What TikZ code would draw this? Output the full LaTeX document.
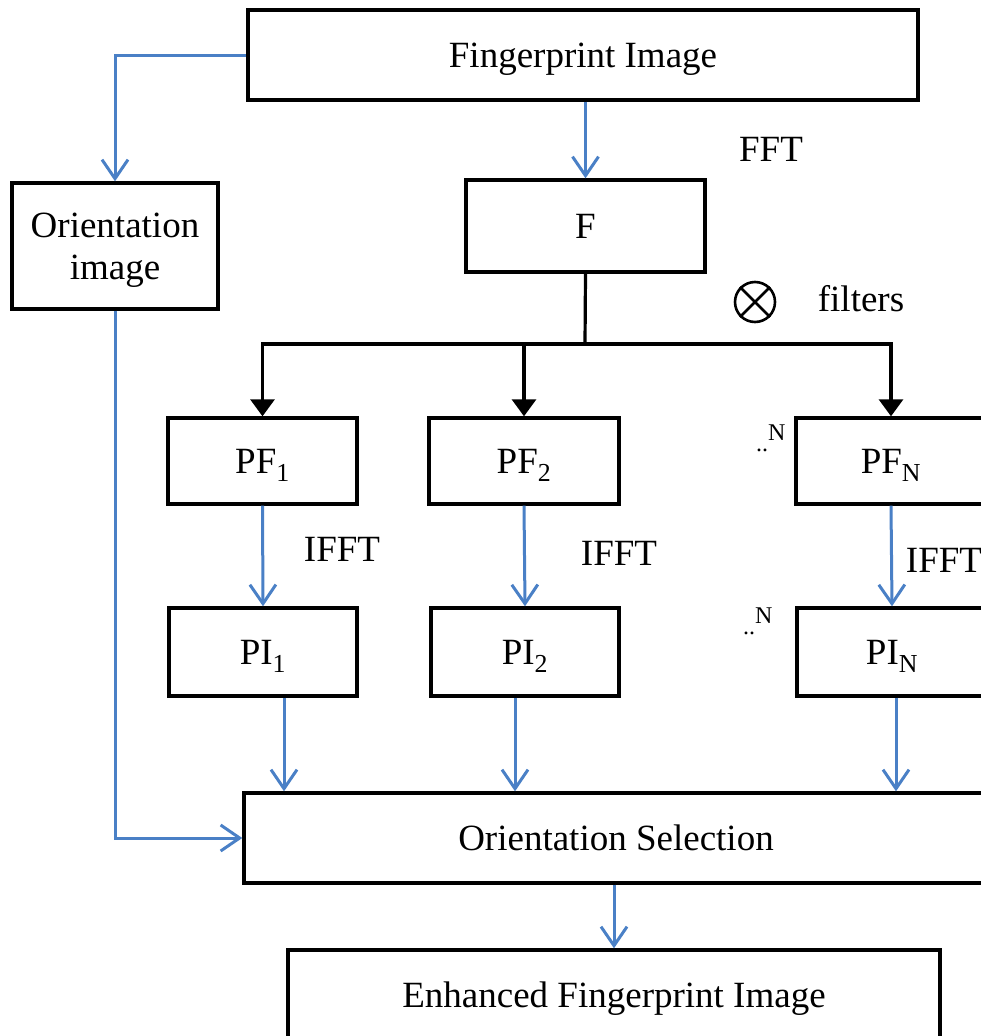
\documentclass[tikz,border=0pt]{standalone}
\usepackage{fontspec}
\setmainfont{Liberation Serif}
\usetikzlibrary{arrows.meta}
\definecolor{flowblue}{RGB}{74,128,198}
\begin{document}
\begin{tikzpicture}[x=1pt,y=-1pt,
  mainfont/.style={font=\fontsize{37}{42}\selectfont},
  box/.style={draw=black,line width=3.4pt,inner sep=0pt,mainfont,align=center,text depth=0pt},
  lbl/.style={inner sep=0pt,mainfont},
  dotlbl/.style={inner sep=0pt,font=\fontsize{24}{26}\selectfont,anchor=base west},
  bluearrow/.style={draw=flowblue,line width=3pt,-{Straight Barb[length=19pt,width=26pt,line width=3pt]}},
  blackarrow/.style={draw=black,line width=3.2pt,-{Triangle[length=17pt,width=24pt]}},
  blacklink/.style={draw=black,line width=3.2pt}]
\useasboundingbox (0,0) rectangle (981,1036);
\clip (0,0) rectangle (981,1036);

% boxes
\node[box,minimum width=670pt,minimum height=90pt] (fp) at (583,55) {Fingerprint Image};
\node[box,minimum width=206pt,minimum height=126pt] (ori) at (115,246) {Orientation\\image};
\node[box,minimum width=239pt,minimum height=92pt] (F) at (585.5,226) {F};
\node[box,minimum width=189pt,minimum height=86pt] (pf1) at (262.5,461) {PF\textsubscript{1}};
\node[box,minimum width=190pt,minimum height=86pt] (pf2) at (524,461) {PF\textsubscript{2}};
\node[box,minimum width=190pt,minimum height=86pt] (pfN) at (891,461) {PF\textsubscript{N}};
\node[box,minimum width=188pt,minimum height=88pt] (pi1) at (263,652) {PI\textsubscript{1}};
\node[box,minimum width=188pt,minimum height=88pt] (pi2) at (525,652) {PI\textsubscript{2}};
\node[box,minimum width=190pt,minimum height=88pt] (piN) at (892,652) {PI\textsubscript{N}};
\node[box,minimum width=744pt,minimum height=90pt] (os) at (616,838) {Orientation Selection};
\node[box,minimum width=652pt,minimum height=90pt] (enh) at (614,995) {Enhanced Fingerprint Image};

% labels
\node[lbl] (fft) at (771,149) {FFT};
\node[circle,draw=black,line width=2.6pt,minimum size=40pt,inner sep=0pt] (otimes) at (755,302) {};
\draw[line width=2.6pt] (otimes.north west) -- (otimes.south east);
\draw[line width=2.6pt] (otimes.north east) -- (otimes.south west);
\node[lbl] (filters) at (861,299) {filters};
\node[lbl] (ifft1) at (342,549) {IFFT};
\node[lbl] (ifft2) at (619,553) {IFFT};
\node[lbl] (ifftN) at (944,560) {IFFT};
\node[dotlbl] (dotsPF) at (756,451) {..\raisebox{0.42em}{N}};
\node[dotlbl] (dotsPI) at (743,634) {..\raisebox{0.42em}{N}};

% fingerprint image to orientation image and to F
\draw[bluearrow] (fp.west) -| (ori.north);
\draw[bluearrow] (F.north |- fp.south) -- (F.north);

% F split to the filtered spectra
\coordinate (split) at (585,344);
\draw[blacklink] (F.south) -- (split);
\draw[blackarrow] (split) -| (pf1.north);
\draw[blackarrow] (split) -| (pf2.north);
\draw[blackarrow] (split) -| (pfN.north);

% inverse transforms
\draw[bluearrow] (pf1.south) -- (pi1.north);
\draw[bluearrow] (pf2.south) -- (pi2.north);
\draw[bluearrow] (pfN.south) -- (piN.north);

% filtered images into orientation selection
\draw[bluearrow] ([xshift=21pt]pi1.south) -- ([xshift=21pt]pi1.south |- os.north);
\draw[bluearrow] ([xshift=-10pt]pi2.south) -- ([xshift=-10pt]pi2.south |- os.north);
\draw[bluearrow] ([xshift=4pt]piN.south) -- ([xshift=4pt]piN.south |- os.north);

% orientation image into orientation selection
\draw[bluearrow] (ori.south) |- (os.west);

% result
\draw[bluearrow] (enh.north |- os.south) -- (enh.north);
\end{tikzpicture}
\end{document}
